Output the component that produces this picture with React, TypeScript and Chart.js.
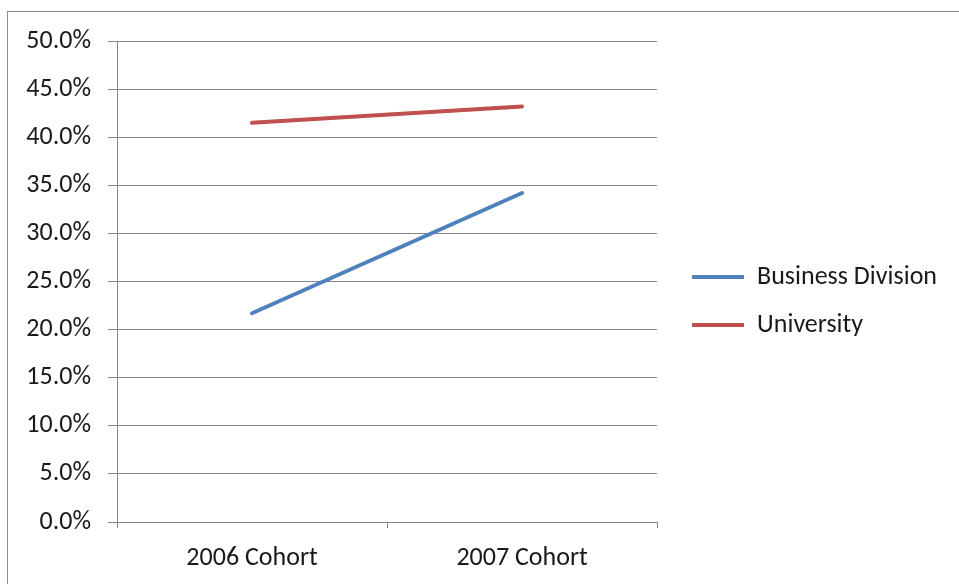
import { useEffect, useRef } from "react";
import { Chart, registerables } from "chart.js";

Chart.register(...registerables);

// Graduation rate by entering cohort (percent)
const cohorts = ["2006 Cohort", "2007 Cohort"];
const businessDivision = [21.7, 34.2];
const university = [41.5, 43.2];

const seriesNames = ["Business Division", "University"];
const seriesColors = ["#4F81BD", "#C0504D"];

const yMin = 0;
const yMax = 50;
const yStep = 5;

const FONT = "Carlito, Lato, 'Liberation Sans', sans-serif";
const FONT_SIZE = 26;
const AXIS_GRAY = "#868686";
const TEXT = "#1a1a1a";

// an axis that only reserves room and draws nothing
const spacer = (position: "top" | "right", size: number) => ({
  position,
  display: true,
  grid: { display: false },
  border: { display: false },
  ticks: { display: false },
  afterFit: (s: any) => {
    if (position === "top") s.height = size;
    else s.width = size;
  },
});

export default function App() {
  const canvasRef = useRef<HTMLCanvasElement>(null);

  useEffect(() => {
    const canvas = canvasRef.current;
    if (!canvas) return;
    const chart = new Chart(canvas, {
      type: "line",
      data: {
        labels: cohorts,
        datasets: [
          {
            label: seriesNames[0],
            data: businessDivision,
            borderColor: seriesColors[0],
            backgroundColor: seriesColors[0],
            borderWidth: 4,
            pointRadius: 0,
            borderCapStyle: "round",
            tension: 0,
          },
          {
            label: seriesNames[1],
            data: university,
            borderColor: seriesColors[1],
            backgroundColor: seriesColors[1],
            borderWidth: 4,
            pointRadius: 0,
            borderCapStyle: "round",
            tension: 0,
          },
        ],
      },
      options: {
        responsive: false,
        animation: false,
        layout: { padding: { top: 0, left: 0, bottom: 0, right: 12 } },
        plugins: {
          legend: {
            position: "right",
            maxWidth: 400,
            labels: {
              usePointStyle: true,
              pointStyle: "line",
              pointStyleWidth: 52,
              padding: 22,
              color: TEXT,
              font: { family: FONT, size: FONT_SIZE },
            },
          },
          tooltip: { enabled: false },
        },
        scales: {
          x: {
            offset: true,
            grid: {
              offset: true,
              drawOnChartArea: false,
              color: AXIS_GRAY,
              tickLength: 6,
            },
            border: { color: AXIS_GRAY },
            ticks: { color: TEXT, font: { family: FONT, size: FONT_SIZE }, padding: 15 },
            afterFit: (s: any) => {
              s.height = 68;
            },
          },
          y: {
            min: yMin,
            max: yMax,
            grid: { color: AXIS_GRAY, tickLength: 9 },
            border: { color: AXIS_GRAY },
            ticks: {
              stepSize: yStep,
              color: TEXT,
              font: { family: FONT, size: FONT_SIZE },
              padding: 17,
              callback: (v: any) => Number(v).toFixed(1) + "%",
            },
            afterFit: (s: any) => {
              s.width = 109;
              s.paddingTop = 0;
              s.paddingBottom = 0;
            },
          },
          topSpace: spacer("top", 29),
          legendGap: spacer("right", 13),
        },
      },
    });
    return () => chart.destroy();
  }, []);

  return (
    <div
      style={{
        position: "fixed",
        inset: 0,
        overflow: "hidden",
        background: "#fff",
      }}
    >
      <div
        style={{
          position: "absolute",
          left: 7,
          top: 11,
          width: 1000,
          height: 640,
          border: "1px solid #8c8c8c",
          background: "#fff",
        }}
      >
        <canvas
          ref={canvasRef}
          width={951}
          height={578}
          style={{ display: "block", width: 951, height: 578 }}
        />
      </div>
    </div>
  );
}
